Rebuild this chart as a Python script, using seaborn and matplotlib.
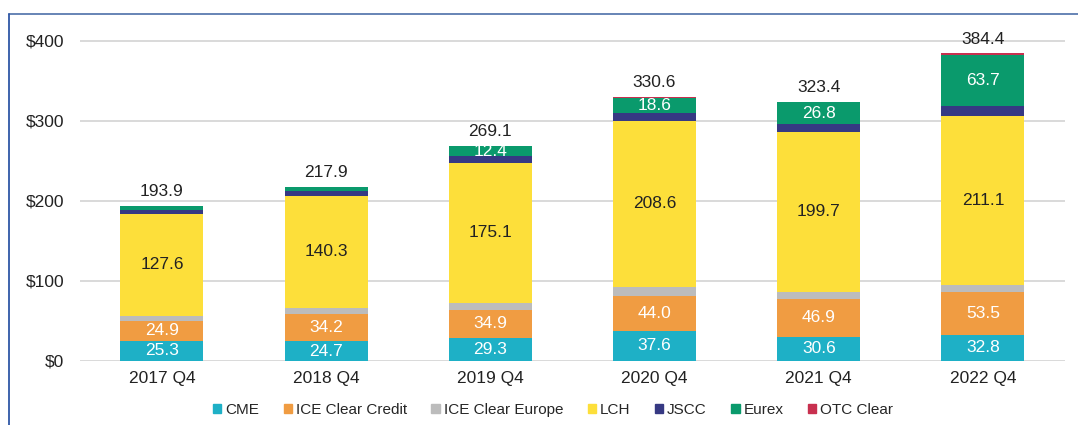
import matplotlib
matplotlib.use("Agg")
import matplotlib.pyplot as plt
from matplotlib.lines import Line2D
from matplotlib.patches import Patch
import seaborn as sns
import numpy as np
import pandas as pd

categories = ["2017 Q4", "2018 Q4", "2019 Q4", "2020 Q4", "2021 Q4", "2022 Q4"]
cme = [25.3, 24.7, 29.3, 37.6, 30.6, 32.8]
ice_credit = [24.9, 34.2, 34.9, 44.0, 46.9, 53.5]
ice_europe = [6.5, 7.2, 8.3, 10.4, 9.2, 8.8]
lch = [127.6, 140.3, 175.1, 208.6, 199.7, 211.1]
jscc = [5.0, 5.8, 8.3, 10.0, 10.0, 12.5]
eurex = [4.2, 4.7, 12.4, 18.6, 26.8, 63.7]
otc = [0.4, 1.0, 0.8, 1.4, 0.2, 2.0]
totals = [193.9, 217.9, 269.1, 330.6, 323.4, 384.4]
yticks = [0, 100, 200, 300, 400]
ytick_labels = ["$0", "$100", "$200", "$300", "$400"]

series_names = ["CME", "ICE Clear Credit", "ICE Clear Europe", "LCH", "JSCC", "Eurex", "OTC Clear"]
series_values = [cme, ice_credit, ice_europe, lch, jscc, eurex, otc]
colors = ["#1eb0c6", "#f09c42", "#bcbcbc", "#fddf3a", "#363983", "#0a9a6c", "#c8304f"]
label_series = {"CME": "white", "ICE Clear Credit": "white", "LCH": "#222222", "Eurex": "white"}
min_labelled = 10.0

sns.set_theme(style="white")
plt.rcParams["font.family"] = ["Liberation Sans", "DejaVu Sans"]

fig = plt.figure(figsize=(10.78, 4.25), dpi=100)
ax = fig.add_axes([0.074, 0.1506, 0.914, 0.7906])

bottom = np.zeros(len(categories))
for name, vals, col in zip(series_names, series_values, colors):
    df = pd.DataFrame({"period": categories, "value": vals})
    sns.barplot(data=df, x="period", y="value", order=categories, color=col,
                bottom=bottom.copy(), width=0.505, ax=ax, saturation=1,
                linewidth=0, edgecolor=col)
    if name in label_series:
        for i, v in enumerate(vals):
            if v >= min_labelled:
                ax.text(i, bottom[i] + v / 2, f"{v:.1f}", ha="center", va="center",
                        fontsize=12.5, color=label_series[name])
    bottom += np.array(vals)

for i, t in enumerate(totals):
    ax.annotate(f"{t:.1f}", xy=(i, bottom[i]), xytext=(0, 5), textcoords="offset points",
                ha="center", va="bottom", fontsize=12.5, color="#222222")

ax.set_xlim(-0.5, len(categories) - 0.5)
ax.set_ylim(0, 420)
ax.set_yticks(yticks)
ax.set_yticklabels(ytick_labels, fontsize=12.5, color="#222222")
ax.tick_params(axis="y", length=0, pad=11)
ax.tick_params(axis="x", length=0, pad=7, labelsize=12.5, labelcolor="#222222")
ax.set_xlabel("")
ax.set_ylabel("")
ax.yaxis.grid(True, color="#d9d9d9", linewidth=1.4)
ax.set_axisbelow(True)
for s in ax.spines.values():
    s.set_visible(False)

handles = [Patch(facecolor=c, edgecolor=c) for c in colors]
fig.legend(handles, series_names, loc="center", bbox_to_anchor=(0.513, 0.035),
           ncol=7, frameon=False, fontsize=11, handlelength=0.55, handleheight=0.55,
           handletextpad=0.25, columnspacing=1.6)

fig.add_artist(Line2D([9 / 1078, 1.0], [1 - 13.5 / 425, 1 - 13.5 / 425],
                      transform=fig.transFigure, color="#5b7bb0", linewidth=1.3))
fig.add_artist(Line2D([9 / 1078, 9 / 1078], [0, 1 - 13.5 / 425],
                      transform=fig.transFigure, color="#2f57a6", linewidth=1.3))

fig.savefig("out.png", dpi=100)
